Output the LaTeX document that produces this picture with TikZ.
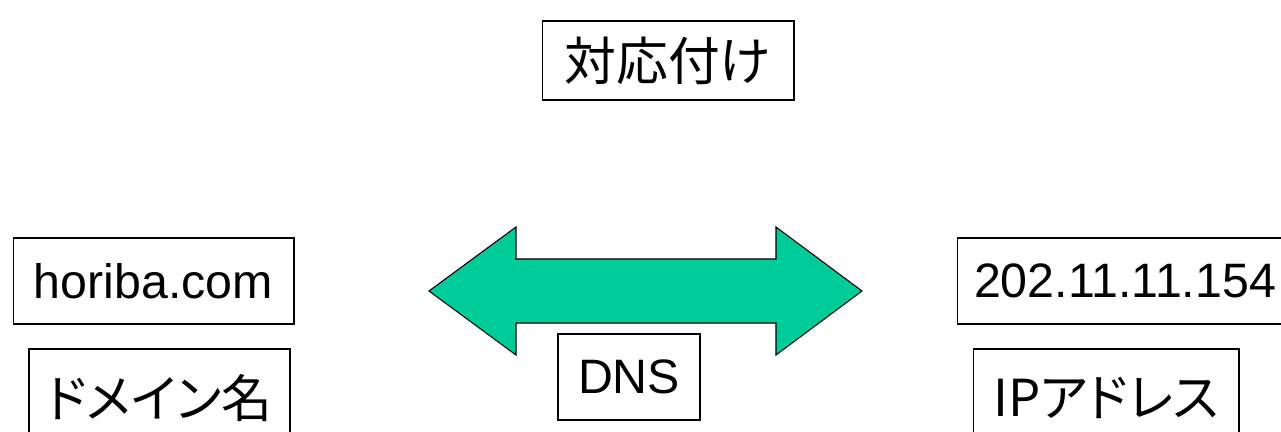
\documentclass[tikz,border=0pt]{standalone}
\usepackage{fontspec}
\setmainfont{Liberation Sans}
\newfontfamily\jpfont{Noto Sans CJK JP}
\newfontfamily\jppfont[RawFeature=+palt]{Noto Sans CJK JP}
\usepackage{xcolor}
\usetikzlibrary{positioning}
\definecolor{dnsgreen}{RGB}{0,204,153}
\tikzset{
  textbox/.style={draw,line width=0.6pt,inner sep=0pt,
    font=\fontsize{27.5}{33}\selectfont},
  jpbox/.style={textbox,font=\jpfont\fontsize{29.5}{35}\selectfont},
  kanabox/.style={textbox,font=\jppfont\fontsize{29}{35}\selectfont},
  bigarrow/.style={fill=dnsgreen,draw=black,line width=0.6pt,line join=miter}
}
\begin{document}
\begin{tikzpicture}[x=0.02cm,y=-0.02cm]
  \useasboundingbox (0,0) rectangle (1281,432);
  \clip (0,0) rectangle (1281,432);
  % top label
  \node[jpbox,minimum width=5.04cm,minimum height=1.58cm] (map) at (668,60.5) {対応付け};
  % left side: name
  \node[textbox,minimum width=5.62cm,minimum height=1.72cm] (domain) at (153.5,281) {horiba.com};
  \node[kanabox,minimum width=5.22cm,minimum height=1.96cm] (domainlabel) at (159.5,398) {ドメイン名};
  % right side: address
  \node[textbox,minimum width=6.72cm,minimum height=1.72cm] (ip) at (1125,281) {202.11.11.154};
  \node[kanabox,minimum width=5.32cm,minimum height=1.96cm] (iplabel) at (1106,398) {IPアドレス};
  % double arrow
  \draw[bigarrow] (429,291) -- (516,227) -- (516,259) -- (776,259) -- (776,227)
    -- (862,291) -- (776,355) -- (776,323) -- (516,323) -- (516,355) -- cycle;
  \node[textbox,minimum width=2.84cm,minimum height=1.72cm] (dns) at (629,377) {DNS};
\end{tikzpicture}
\end{document}
